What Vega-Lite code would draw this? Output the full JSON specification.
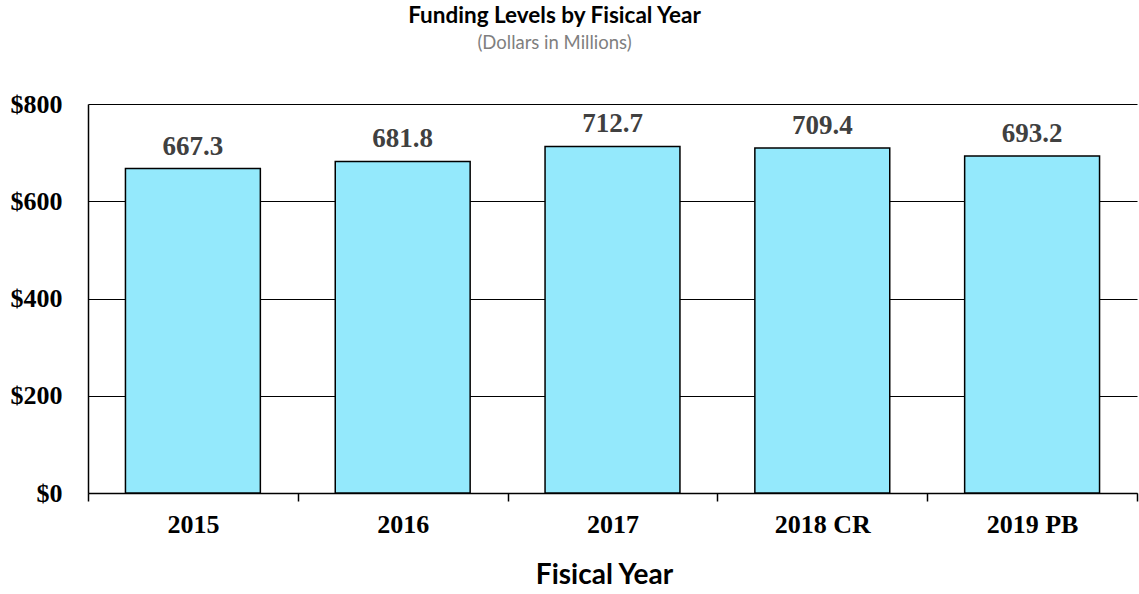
{
  "$schema": "https://vega.github.io/schema/vega-lite/v6.json",
  "width": 1049,
  "height": 389,
  "autosize": {"type": "none"},
  "padding": {"left": 88, "top": 104, "right": 2, "bottom": 101},
  "background": "white",
  "title": {
    "text": "Funding Levels by Fisical Year",
    "subtitle": "(Dollars in Millions)",
    "font": "Lato",
    "fontSize": 22.5,
    "fontWeight": "bold",
    "color": "black",
    "subtitleFont": "Lato",
    "subtitleFontSize": 18.5,
    "subtitleColor": "#7f7f7f",
    "subtitlePadding": 6,
    "anchor": "middle",
    "dx": -58,
    "offset": 39
  },
  "data": {
    "values": [
      {"year": "2015", "amount": 667.3},
      {"year": "2016", "amount": 681.8},
      {"year": "2017", "amount": 712.7},
      {"year": "2018 CR", "amount": 709.4},
      {"year": "2019 PB", "amount": 693.2}
    ]
  },
  "encoding": {
    "x": {
      "field": "year",
      "type": "nominal",
      "sort": null,
      "scale": {"paddingInner": 0, "paddingOuter": 0},
      "axis": {
        "title": "Fisical Year",
        "titleFont": "Lato",
        "titleFontSize": 28,
        "titleFontWeight": "bold",
        "titleColor": "black",
        "titlePadding": 24,
        "titleX": 516,
        "labelAngle": 0,
        "labelFont": "Liberation Serif",
        "labelFontSize": 26,
        "labelFontWeight": "bold",
        "labelColor": "black",
        "labelPadding": 10,
        "tickBand": "extent",
        "tickSize": 8,
        "tickColor": "black",
        "tickWidth": 1.5,
        "domainColor": "black",
        "domainWidth": 1.5,
        "grid": false
      }
    },
    "y": {
      "field": "amount",
      "type": "quantitative",
      "scale": {"domain": [0, 800]},
      "axis": {
        "title": null,
        "values": [0, 200, 400, 600, 800],
        "format": "$,.0f",
        "labelFont": "Liberation Serif",
        "labelFontSize": 26,
        "labelFontWeight": "bold",
        "labelColor": "black",
        "labelPadding": 26,
        "ticks": false,
        "domainColor": "black",
        "domainWidth": 1.5,
        "grid": true,
        "gridColor": "black",
        "gridWidth": 1.2,
        "gridOpacity": 1
      }
    }
  },
  "layer": [
    {
      "mark": {"type": "bar", "width": {"band": 0.643}, "fill": "#94E9FC", "stroke": "black", "strokeWidth": 1.5}
    },
    {
      "mark": {
        "type": "text",
        "baseline": "bottom",
        "dy": -8,
        "font": "Liberation Serif",
        "fontSize": 27,
        "fontWeight": "bold",
        "color": "#404040"
      },
      "encoding": {
        "text": {"field": "amount", "type": "quantitative", "format": ".1f"}
      }
    }
  ],
  "config": {"view": {"stroke": null}}
}
